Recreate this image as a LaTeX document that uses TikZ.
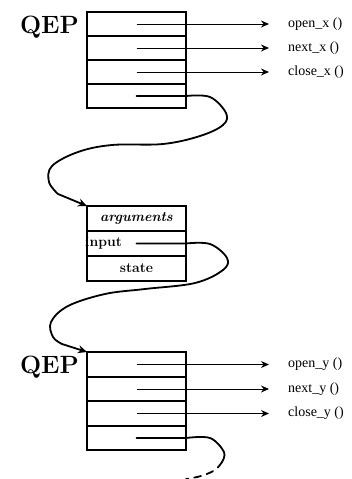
\documentclass[tikz,border=0pt]{standalone}
\usepackage{fontspec}
\newfontfamily\labelfont{Liberation Serif}
\usetikzlibrary{arrows.meta}
\begin{document}
\begin{tikzpicture}[x=1pt,y=-1pt,
  cell/.style={draw,line width=1.8pt,minimum width=99pt,minimum height=24pt,
    inner sep=0pt,outer sep=0pt,anchor=north west},
  call/.style={-{Stealth[length=8pt,width=7pt]},line width=1pt,shorten >=19pt},
  fn/.style={font=\labelfont\fontsize{14}{14}\selectfont,anchor=west,inner sep=0pt},
  link/.style={line width=1.8pt,line join=round,line cap=round},
  linktip/.style={link,-{Stealth[length=9pt,width=8pt]}},
  qep/.style={font=\fontsize{25}{25}\selectfont\bfseries,anchor=base east,inner sep=0pt},
  field/.style={font=\fontsize{14}{14}\selectfont\bfseries}]
\useasboundingbox (0,0) rectangle (352,479);

% first operator block
\node[qep] (q1) at (79,33) {QEP};
\node[cell] (a1) at (87,12) {};
\node[cell] (a2) at (87,36) {};
\node[cell] (a3) at (87,60) {};
\node[cell] (a4) at (87,84) {};
\node[fn] (fa1) at (288,24) {open\_x ()};
\node[fn] (fa2) at (288,48) {next\_x ()};
\node[fn] (fa3) at (288,72) {close\_x ()};
\draw[call] (a1.center) -- (a1.center -| fa1.west);
\draw[call] (a2.center) -- (a2.center -| fa2.west);
\draw[call] (a3.center) -- (a3.center -| fa3.west);

% argument block
\node[cell,minimum height=25pt,field] (b1) at (87,206) {\itshape arguments};
\node[cell,minimum height=25pt] (b2) at (87,231) {};
\node[cell,minimum height=25pt,field] (b3) at (87,256) {state};
\node[field,anchor=west,inner sep=0pt] (inp) at (85,243.5) {input};

% second operator block
\node[qep] (q2) at (79,373) {QEP};
\node[cell,minimum height=25pt] (c1) at (87,352) {};
\node[cell] (c2) at (87,377) {};
\node[cell,minimum height=25pt] (c3) at (87,401) {};
\node[cell] (c4) at (87,426) {};
\node[fn] (fc1) at (288,364) {open\_y ()};
\node[fn] (fc2) at (288,389) {next\_y ()};
\node[fn] (fc3) at (288,413) {close\_y ()};
\draw[call] (c1.center) -- (c1.center -| fc1.west);
\draw[call] (c2.center) -- (c2.center -| fc2.west);
\draw[call] (c3.center) -- (c3.center -| fc3.west);

% pointer from the first block to its arguments
\draw[linktip] (a4.center) -- (a4.east)
  -- plot[smooth,tension=0.6] coordinates {(186,96) (210,97) (226,113) (223,125)
     (200,136) (163,144) (112,145) (78,152) (52,166) (49,182) (58,194)}
  -- (b1.north west);

% pointer from the input field to the second block
\draw[linktip] (b2.center) -- (b2.east)
  -- plot[smooth,tension=0.6] coordinates {(186,243.5) (210,244) (227,258) (223,270)
     (195,283) (145,289) (105,294) (68,306) (51,322) (53,337) (62,344)}
  -- (c1.north west);

% continuing pointer below the second block
\draw[link] (c4.center) -- (c4.east)
  -- plot[smooth,tension=0.6] coordinates {(186,438) (210,438) (224,452) (222,462)};
\draw[link,dash pattern=on 7pt off 6pt]
  plot[smooth,tension=0.6] coordinates {(222,462) (215,470) (201,476) (186,479)};
\end{tikzpicture}
\end{document}
